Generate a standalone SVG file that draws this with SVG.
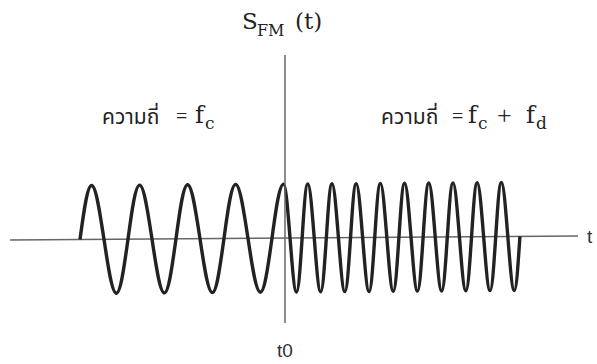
<svg xmlns="http://www.w3.org/2000/svg" width="597" height="364" viewBox="0 0 597 364">
<style>
.axis{stroke:#666;stroke-width:1.5;fill:none}
.wave{stroke:#222;stroke-width:3.4;fill:none;stroke-linejoin:round}
.ser{font-family:"DejaVu Serif","Liberation Serif",serif;fill:#222}
.op{font-family:"Liberation Serif","DejaVu Serif",serif}
.thai{font-family:"Noto Sans Thai","Noto Sans","Liberation Sans","DejaVu Sans",sans-serif;fill:#222;font-size:21px}
.sans{font-family:"Liberation Sans","DejaVu Sans",sans-serif;fill:#333;font-size:19px}
</style>
<g id="connectors">
<g transform="rotate(-0.4 10 240)">
<line id="t-axis" class="axis" x1="10" y1="240" x2="578" y2="240"/>
<path id="fm-wave" class="wave" d="M80,240
c3.913,-27.66 7.657,-54 12,-54 c4.343,0 8.087,27.66 12,54 c3.913,27.66 7.657,54 12,54 c4.343,0 8.087,-27.66 12,-54
c3.913,-27.66 7.657,-54 12,-54 c4.343,0 8.087,27.66 12,54 c3.913,27.66 7.657,54 12,54 c4.343,0 8.087,-27.66 12,-54
c3.913,-27.66 7.657,-54 12,-54 c4.343,0 8.087,27.66 12,54 c3.913,27.66 7.657,54 12,54 c4.343,0 8.087,-27.66 12,-54
c3.913,-27.66 7.657,-54 12,-54 c4.343,0 8.087,27.66 12,54 c3.913,27.66 7.657,54 12,54 c4.343,0 8.087,-27.66 12,-54
c3.913,-27.66 7.657,-54 12,-54
c2.19,0 4.077,27.66 6.05,54 c1.973,27.66 3.861,54 6.05,54 c2.19,0 4.077,-27.66 6.05,-54 c1.973,-27.66 3.861,-54 6.05,-54
c2.19,0 4.077,27.66 6.05,54 c1.973,27.66 3.861,54 6.05,54 c2.19,0 4.077,-27.66 6.05,-54 c1.973,-27.66 3.861,-54 6.05,-54
c2.19,0 4.077,27.66 6.05,54 c1.973,27.66 3.861,54 6.05,54 c2.19,0 4.077,-27.66 6.05,-54 c1.973,-27.66 3.861,-54 6.05,-54
c2.19,0 4.077,27.66 6.05,54 c1.973,27.66 3.861,54 6.05,54 c2.19,0 4.077,-27.66 6.05,-54 c1.973,-27.66 3.861,-54 6.05,-54
c2.19,0 4.077,27.66 6.05,54 c1.973,27.66 3.861,54 6.05,54 c2.19,0 4.077,-27.66 6.05,-54 c1.973,-27.66 3.861,-54 6.05,-54
c2.19,0 4.077,27.66 6.05,54 c1.973,27.66 3.861,54 6.05,54 c2.19,0 4.077,-27.66 6.05,-54 c1.973,-27.66 3.861,-54 6.05,-54
c2.19,0 4.077,27.66 6.05,54 c1.973,27.66 3.861,54 6.05,54 c2.19,0 4.077,-27.66 6.05,-54 c1.973,-27.66 3.861,-54 6.05,-54
c2.19,0 4.077,27.66 6.05,54 c1.973,27.66 3.861,54 6.05,54 c2.19,0 4.077,-27.66 6.05,-54 c1.973,-27.66 3.861,-54 6.05,-54
c2.19,0 4.077,27.66 6.05,54 c1.973,27.66 3.861,54 6.05,54 c2.19,0 4.077,-27.66 6.05,-54 c1.973,-27.66 3.861,-54 6.05,-54
c2.19,0 4.077,27.66 6.05,54 c1.973,27.66 3.861,54 6.05,54 c2.19,0 4.077,-27.66 6.05,-54"/>
</g>
<line id="s-axis" class="axis" x1="285" y1="55" x2="285" y2="323"/>
</g>
<g id="title">
<text class="ser" y="29"><tspan x="242" font-size="23">S</tspan><tspan x="257" y="36" font-size="16">FM</tspan><tspan x="295" y="29" font-size="23">(t)</tspan></text>
</g>
<g id="label-left">
<text class="thai" x="102" y="124">ความถี่</text>
<text class="ser" y="123" fill="#222"><tspan class="op" x="176" font-size="20">=</tspan><tspan x="195" font-size="24">f</tspan><tspan x="205" y="129" font-size="17">c</tspan></text>
</g>
<g id="label-right">
<text class="thai" x="381" y="124">ความถี่</text>
<text class="ser" y="123" fill="#222"><tspan class="op" x="452" font-size="20">=</tspan><tspan x="468" font-size="24">f</tspan><tspan x="478" y="129" font-size="17">c</tspan><tspan class="op" x="497" y="124" font-size="26">+</tspan><tspan x="526" y="123" font-size="24">f</tspan><tspan x="536" y="129" font-size="17">d</tspan></text>
</g>
<g id="label-t"><text class="sans" x="587" y="243">t</text></g>
<g id="label-t0"><text class="sans" x="277" y="357">t0</text></g>
</svg>
